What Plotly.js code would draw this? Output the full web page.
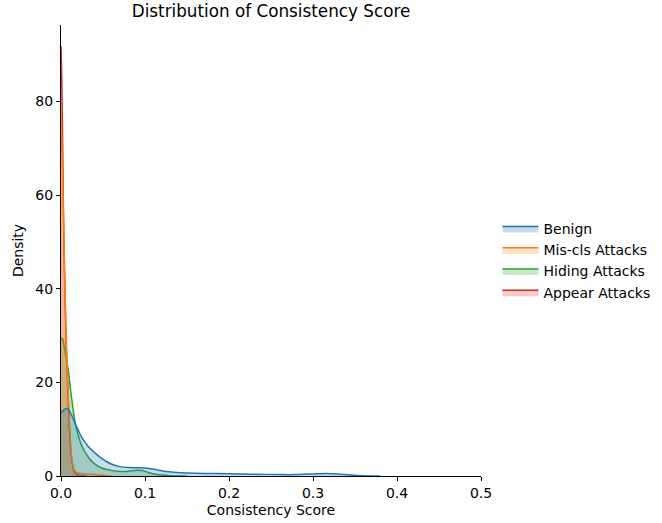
<!DOCTYPE html>
<html>
<head>
<meta charset="utf-8">
<script src="https://cdn.plot.ly/plotly-3.0.1.min.js"></script>
<style>html,body{margin:0;padding:0;background:#fff;}#chart{width:662px;height:523px;}</style>
</head>
<body>
<div id="chart"></div>
<script>
// Series names (hue order) and colours
const seriesNames = ["Benign", "Mis-cls Attacks", "Hiding Attacks", "Appear Attacks"];

// Benign
const benignX = [0, 0.004, 0.008, 0.012, 0.0167, 0.0246, 0.0325, 0.04, 0.046, 0.054, 0.062, 0.07, 0.08, 0.094, 0.105, 0.115, 0.125, 0.134, 0.15, 0.17, 0.2, 0.23, 0.26, 0.28, 0.3, 0.315, 0.33, 0.345, 0.36, 0.38];
const benignY = [13.5, 14.2, 14.4, 13.2, 11.3, 8.3, 6.3, 5.0, 4.1, 3.1, 2.4, 2.0, 1.8, 1.75, 1.6, 1.3, 0.95, 0.8, 0.65, 0.55, 0.5, 0.4, 0.3, 0.3, 0.45, 0.55, 0.45, 0.2, 0.05, 0];

// Mis-cls Attacks
const misclsX = [0, 0.001, 0.002, 0.003, 0.004, 0.005, 0.006, 0.007, 0.008, 0.01, 0.012, 0.014, 0.016, 0.019, 0.025, 0.035, 0.05, 0.06];
const misclsY = [79.5, 71, 63, 55, 46, 38, 31, 26, 21, 12, 5.5, 2.5, 1.2, 0.7, 0.5, 0.35, 0.15, 0];

// Hiding Attacks
const hidingX = [0, 0.002, 0.004, 0.006, 0.0087, 0.012, 0.0167, 0.02, 0.0246, 0.0325, 0.04, 0.05, 0.06, 0.07, 0.08, 0.09, 0.097, 0.105, 0.115, 0.13, 0.15];
const hidingY = [29.5, 29.2, 27.5, 25.5, 22.5, 17.5, 11.5, 9, 6.5, 4.0, 2.6, 1.6, 1.2, 0.95, 1.0, 1.25, 1.15, 0.7, 0.3, 0.08, 0];

// Appear Attacks
const appearX = [0, 0.001, 0.002, 0.003, 0.004, 0.006, 0.008, 0.01, 0.012, 0.014, 0.016, 0.02, 0.03];
const appearY = [91.8, 84, 70, 55.5, 45, 29, 19, 10, 4.5, 2, 0.8, 0.2, 0];

const xTicks = [0, 0.1, 0.2, 0.3, 0.4, 0.5];
const yTicks = [0, 20, 40, 60, 80];

function tr(name, x, y, rgb) {
  return {
    type: 'scatter', mode: 'lines', name: name, x: x, y: y,
    fill: 'tozeroy',
    fillcolor: 'rgba(' + rgb + ',0.25)',
    line: {color: 'rgb(' + rgb + ')', width: 1.5, shape: 'spline', smoothing: 0.5}
  };
}

// drawn in reverse hue order (like seaborn), legend reversed back
const data = [
  tr(seriesNames[3], appearX, appearY, '214,39,40'),
  tr(seriesNames[2], hidingX, hidingY, '44,160,44'),
  tr(seriesNames[1], misclsX, misclsY, '255,127,14'),
  tr(seriesNames[0], benignX, benignY, '31,119,180')
];

const font = {family: 'DejaVu Sans, sans-serif', size: 14, color: '#000'};

const layout = {
  width: 662, height: 523,
  margin: {l: 61, r: 181, t: 25, b: 47, pad: 0},
  paper_bgcolor: '#fff', plot_bgcolor: '#fff',
  font: font,
  showlegend: true,
  title: {text: 'Distribution of Consistency Score', font: {family: 'DejaVu Sans, sans-serif', size: 16.8, color: '#000'}, x: 0.5, xref: 'paper', xanchor: 'center', y: 0.979, yref: 'container', yanchor: 'middle'},
  xaxis: {
    range: [0, 0.5], tickvals: xTicks, tickformat: '.1f',
    showgrid: false, zeroline: false, showline: true, linecolor: '#000', linewidth: 1,
    ticks: 'outside', ticklen: 4, tickwidth: 1, tickcolor: '#000',
    tickfont: font,
    title: {text: 'Consistency Score', font: font, standoff: 5},
    automargin: false
  },
  yaxis: {
    range: [0, 96.3], tickvals: yTicks,
    showgrid: false, zeroline: false, showline: true, linecolor: '#000', linewidth: 1,
    ticks: 'outside', ticklen: 4, tickwidth: 1, tickcolor: '#000',
    tickfont: font,
    title: {text: 'Density', font: font, standoff: 8},
    automargin: false
  },
  legend: {
    xref: 'container', yref: 'container',
    x: 0.7515, xanchor: 'left', y: 0.502, yanchor: 'middle', itemwidth: 36,
    traceorder: 'reversed', font: font, bgcolor: 'rgba(0,0,0,0)', borderwidth: 0
  }
};

Plotly.newPlot('chart', data, layout, {displayModeBar: false, staticPlot: true});
</script>
</body>
</html>
